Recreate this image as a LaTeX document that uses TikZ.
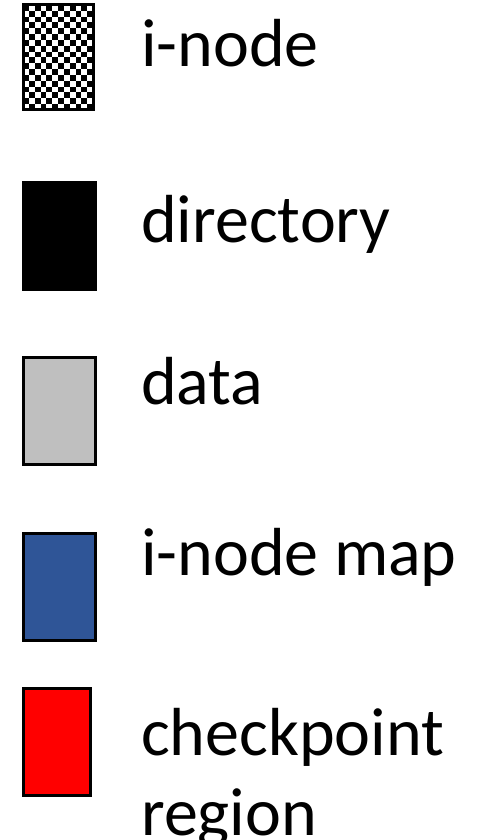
\documentclass[tikz,border=0pt]{standalone}
\usepackage{fontspec}
\setmainfont{Carlito}
\usepackage{tikz}
\definecolor{mapblue}{HTML}{2F5597}
\definecolor{datagray}{HTML}{BFBFBF}
\definecolor{cpred}{HTML}{FF0000}

\begin{document}
\begin{tikzpicture}[x=1pt,y=-1pt,
  key/.style={rectangle,draw,line width=3pt,
    minimum width=72pt,minimum height=107pt,inner sep=0pt},
  lbl/.style={anchor=base west,inner sep=0pt,
    font=\fontsize{68}{80}\selectfont}]

  \useasboundingbox (0,0) rectangle (485,840);

  % legend boxes
  \node[key,minimum width=70pt,minimum height=105pt,fill=white,
    path picture={
      \foreach \i in {0,...,11}
        \foreach \j in {0,...,17}{
          \pgfmathtruncatemacro\chk{mod(\i+\j,2)}
          \ifnum\chk=0
            \fill[black] ([shift={(\i*70/12,\j*105/18)}]path picture bounding box.north west)
              rectangle ++(70/12,105/18);
          \fi}
    }] (inode) at (58,57.5) {};
  \node[key,fill=black] (dir) at (59,235.5) {};
  \node[key,fill=datagray] (data) at (59,410.5) {};
  \node[key,fill=mapblue] (imap) at (59,587) {};
  \node[key,fill=cpred,minimum width=67pt] (cpr) at (56.5,741.5) {};

  % labels
  \node[lbl] (inodetxt) at (141,67) {i-node};
  \node[lbl] (dirtxt) at (141,242) {directory};
  \node[lbl] (datatxt) at (141,404) {data};
  \node[lbl] (imaptxt) at (141,575) {i-node map};
  \node[lbl] (cprtxt) at (141,755) {checkpoint};
  \node[lbl] (regtxt) at (141,835) {region};
\end{tikzpicture}
\end{document}
